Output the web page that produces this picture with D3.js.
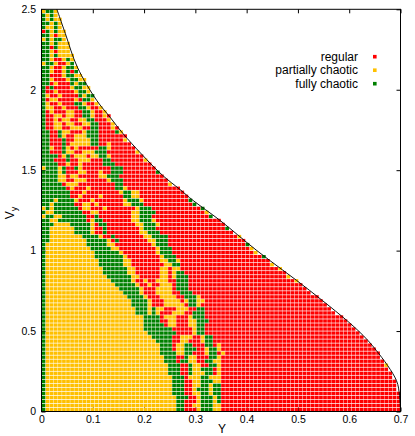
<!DOCTYPE html>
<html>
<head>
<meta charset="utf-8">
<script src="https://cdn.jsdelivr.net/npm/d3@7"></script>
<style>
  body { margin: 0; background: #fff; }
  svg { display: block; font-family: "Liberation Sans", Arial, sans-serif; }
</style>
</head>
<body>
<div id="chart"></div>
<script>
// categories of the orbit map (legend order)
var categories = ["regular", "partially chaotic", "fully chaotic"];
var codes = ["r", "p", "f"];

var xTicks = [0, 0.1, 0.2, 0.3, 0.4, 0.5, 0.6, 0.7];
var yTicks = [0, 0.5, 1, 1.5, 2, 2.5];

// grid step in Y and Vy
var stepY = 0.7 / 88;
var stepV = 0.025;

// one string per Vy row, from Vy=0 upwards; runs of r/p/f, rest of the row is regular
var rows = [
  "f1p32f2r3p1f3p2",            // 0
  "f1p32f2r2p2f3p2",
  "f1p32f2r3p1f3p1f1",
  "f1p32f3r2p1f3p1f1",
  "f1p31f3r2p2f2p1f2",
  "f1p31f3r2p1f3p1f2",          // 5
  "f1p31f3r2p2f2p1f2",
  "f1p31f3r2p2f3p2",
  "f1p31f3r1p3f2p3",
  "f1p30f3r2f1p3f2r1p1",
  "f1p30f3r2f1p2f3r1p1",        // 10
  "f1p30f3r2f1p2r2f2p1",
  "f1p29f3r1f2p2r2f2p2",
  "f1p29f3r2f1p2r3f2p1",
  "f1p28f4p2f2r3p1f2r1p1",
  "f1p28f3r1p2f3r2p1f2p1",      // 15
  "f1p28f3r1p2f2r3f2r1p1",
  "f1p27f4r2p2r3p1f2r1",
  "f1p26f5r2p3r2p1f2",
  "f1p25f7r4p1f2",
  "f1p24f7r5p1f2",              // 20
  "f1p24f5r1p2r3p2f2",
  "f1p24f4r2p2r3p2f3",
  "f1p24f4r1p3r3p1f3",
  "f1p22f3p1f1p1r3p3r2f3",
  "f1p22f3p1f1p2r3p3r2f2",      // 25
  "f1p21f4p1r3p5r1f2p1",
  "f1p21f4p1r3p4r1p1f2p2",
  "f1p20f4p1r3p4r2f3p1",
  "f1p19f4p1r3p4r2f3",
  "f1p18f5p1r3p4r1f3",          // 30
  "f1p17f5p1r2p1r2p3r1f3",
  "f1p16f5p1r2p1r2p3r2f3",
  "f1p15f6p2r5p2r1p1f3",
  "f1p14f6p2r6p2r1p1f2",
  "f1p14f6p2r6p2r1p2",          // 35
  "f1p13f6p2r8p2f2",
  "f1p13f6p2r7p2f2p1",
  "f1p12f7p1r8p1f3",
  "f1p12f6p1r8p1f3",
  "f1p11f5p2r9p1f3",            // 40
  "f1p10f5p2r9p1f3",
  "f2p9f5p1r1f1r7p2f3",
  "f2p8f4p1r2f1r7p2f4",
  "f2p6f4p1r2f1r8p2f3",
  "f2p6f4p1r2f1r8p1f3",         // 45
  "f3p4f5p1r1f2r7p2f3p1",
  "f2p2f7r1p1f2r7p2f3p1",
  "p1f2p2f6r2f1r8p2f3",
  "f1p2f7r2p2r8p2f4",
  "p1f1p1f6r1p2r3p1r7p1f3",     // 50
  "f2p1f5r2p2r1p1r6p2f3",
  "f3p1f4p1r3p1r7p1f3p1",
  "f7r2p1r4p1r5f2p2",
  "f7r3p1r8p1f2p2",
  "f6r1p1r3p1r6f2p1",           // 55
  "f5r1p3r9f2",
  "f4p2r2p3r5p1f3",
  "f4p2r1p2r5p2f3",
  "f4p1f1r3p2r3p1r2f3",
  "p1f3p1f1r2f1p1r7f3",         // 60
  "f4r2p1r2p1r5f3",
  "f3r3f1r2p3r3f2",
  "f4r1p1f1r1p3r1p2f2p1",
  "f2r3f1p2r2p3f3",
  "f2p1r2f1p1r1p1r5f2p1",       // 65
  "f2r3f1r1p5f2r2p1r2",
  "f2r3f1r2p4f2",
  "f2r2f1p1r2p3f3",
  "f2r2f1p2r3p1f3r4f1p1",
  "f1r2p2r2p3r2f2r3p1r1p1",     // 70
  "f1r2p2r1p2r2p2f2r3p1",
  "f1r2p1r1p2r2p2f2r3p1",
  "f1r2p2r1p2r2f2p1r2p1",
  "f1r1p1r3p2r2f2p1r2p1",
  "f1p2r2p1r3f2p1r2p1",         // 75
  "f1p1r2p1r3f2p1r2p1",
  "f1r1p2r4p1r1f2p1",
  "f1p1r2p1r4f1p1f2",
  "f1r2p1r4p1f2p1",
  "f1r1f1r4p1f2p2",             // 80
  "f2r1p1r3f1p1f2p1",
  "f2p1r3p1f2p2",
  "f2r3p1f2p2",
  "f2p1r2p1f1r1f1",
  "f2p1r2p1f2p1",               // 85
  "p1f2p1r2p1f1p1",
  "f2p1r2p1f1p1",
  "f2p1f1p4",
  "f2p1r1p3",
  "f2r1f1p3",                   // 90
  "f2p1f1p3",
  "p1f1p1f2p1",
  "f2p1r1p2",
  "r1f1p1f1p2",
  "f1p2f1p1",                   // 95
  "f2p1f1p1",
  "f1p1f1p2",
  "f1p1f1p1",
  "p1f2p1"                      // 99
];

// last cell of a row that touches the boundary and is not regular
var edgeCells = [[11, "p"], [32, "p"], [33, "p"], [35, "p"], [36, "p"], [38, "f"],
  [39, "p"], [40, "p"], [41, "f"], [43, "p"], [45, "f"], [48, "f"], [49, "p"],
  [50, "f"], [51, "f"], [52, "f"], [56, "p"], [59, "f"], [62, "p"], [64, "p"], [67, "p"]];

// allowed region boundary: Vy -> max Y
var boundaryV = [0, 0.1, 0.193, 0.379, 0.504, 0.752, 1.0, 1.188, 1.312, 1.38, 1.468, 1.6, 1.727, 1.83, 1.934, 2.141, 2.349, 2.5];
var boundaryY = [0.700, 0.698, 0.692, 0.653, 0.617, 0.523, 0.420, 0.348, 0.2955, 0.270, 0.236, 0.195, 0.159, 0.1335, 0.1076, 0.0698, 0.0465, 0.030];

var colors = { r: "#ff0000", p: "#ffc000", f: "#008000" };

var width = 415, height = 436;
var svg = d3.select("#chart").append("svg").attr("width", width).attr("height", height);

var x = d3.scaleLinear().domain([0, 0.7]).range([41.5, 400.5]);
var y = d3.scaleLinear().domain([0, 2.5]).range([411.5, 9.3]);
var edge = d3.scaleLinear().domain(boundaryV).range(boundaryY);

function expand(s) {
  var out = [];
  s.replace(/([rpf])(\d+)/g, function(m, k, n) {
    for (var i = 0; i < +n; i++) out.push(k);
  });
  return out;
}

var edgeMap = {};
edgeCells.forEach(function(d) { edgeMap[d[0]] = d[1]; });

var cells = [];
rows.forEach(function(s, r) {
  var kinds = expand(s);
  var vc = (r + 0.5) * stepV;
  var n = Math.round(edge(vc) / stepY);
  for (var c = 0; c < n; c++) {
    var k = kinds[c] || "r";
    if (c == n - 1 && edgeMap[r]) k = edgeMap[r];
    cells.push({ y0: c * stepY, v0: r * stepV, k: k });
  }
});

// ticks (under the cells, like the original)
function styleAxis(g) {
  g.select(".domain").remove();
  g.selectAll(".tick line").attr("stroke", "#000");
  g.selectAll(".tick text").attr("fill", "#000").style("font-size", "10.5px")
    .style("font-family", '"Liberation Sans", Arial, sans-serif');
}
svg.append("g").attr("transform", "translate(0," + y(0) + ")")
  .call(d3.axisBottom(x).tickValues(xTicks).tickSize(-4).tickPadding(4.5).tickFormat(d3.format("")))
  .call(styleAxis);
svg.append("g").attr("transform", "translate(" + x(0) + ",0)")
  .call(d3.axisLeft(y).tickValues(yTicks).tickSize(-4).tickPadding(5.5).tickFormat(d3.format("")))
  .call(styleAxis);
svg.append("g").attr("transform", "translate(0," + y(2.5) + ")")
  .call(d3.axisTop(x).tickValues(xTicks).tickSize(-4).tickFormat(""))
  .call(styleAxis);
svg.append("g").attr("transform", "translate(" + x(0.7) + ",0)")
  .call(d3.axisRight(y).tickValues(yTicks).tickSize(-4).tickFormat(""))
  .call(styleAxis);

svg.append("clipPath").attr("id", "plotclip").append("rect")
  .attr("x", x(0)).attr("y", y(2.5)).attr("width", x(0.7) - x(0)).attr("height", y(0) - y(2.5));

svg.append("g").attr("clip-path", "url(#plotclip)")
  .selectAll("rect").data(cells).enter().append("rect")
  .attr("x", function(d) { return x(d.y0) + 0.2; })
  .attr("y", function(d) { return y(d.v0 + stepV) + 0.35; })
  .attr("width", function(d) { return x(d.y0 + stepY) - x(d.y0) - 0.4; })
  .attr("height", function(d) { return y(d.v0) - y(d.v0 + stepV) - 0.7; })
  .attr("fill", function(d) { return colors[d.k]; });

// boundary curve
var line = d3.line()
  .x(function(d) { return x(d[1]); })
  .y(function(d) { return y(d[0]); })
  .curve(d3.curveCatmullRom);
svg.append("path")
  .datum(boundaryV.map(function(v, i) { return [v, boundaryY[i]]; }))
  .attr("d", line)
  .attr("fill", "none").attr("stroke", "#111").attr("stroke-width", 1);

// frame
svg.append("rect")
  .attr("x", x(0)).attr("y", y(2.5)).attr("width", x(0.7) - x(0)).attr("height", y(0) - y(2.5))
  .attr("fill", "none").attr("stroke", "#000").attr("stroke-width", 1);

// axis titles
svg.append("text").attr("x", 222).attr("y", 433).attr("text-anchor", "middle")
  .style("font-size", "12px").text("Y");
var vt = svg.append("text").attr("transform", "translate(14,213) rotate(-90)")
  .attr("text-anchor", "middle").style("font-size", "12px");
vt.append("tspan").text("V");
vt.append("tspan").attr("dy", 3).style("font-size", "9px").text("y");

// legend
var legend = svg.append("g").selectAll("g").data(categories).enter().append("g")
  .attr("transform", function(d, i) { return "translate(0," + (56.7 + i * 13.5) + ")"; });
legend.append("text").attr("x", 358).attr("dy", "0.35em").attr("text-anchor", "end")
  .style("font-size", "12px").text(function(d) { return d; });
legend.append("rect").attr("x", 373).attr("y", -1.8).attr("width", 3.6).attr("height", 3.6)
  .attr("fill", function(d, i) { return colors[codes[i]]; });
</script>
</body>
</html>
